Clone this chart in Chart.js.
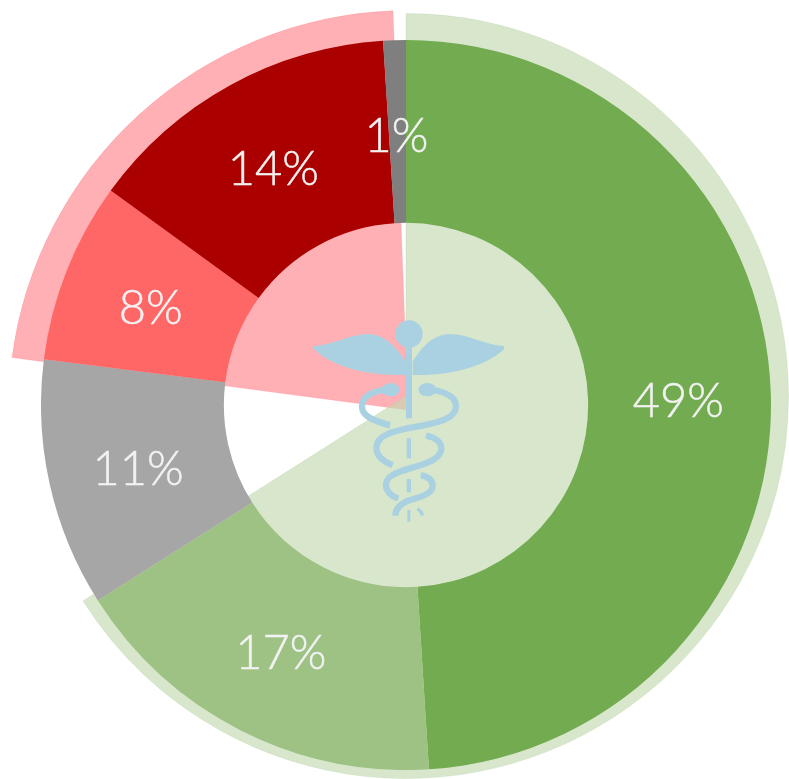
<!DOCTYPE html>
<html><head><meta charset="utf-8">
<script src="https://cdn.jsdelivr.net/npm/chart.js@4"></script>
<style>
html,body{margin:0;padding:0;width:789px;height:779px;overflow:hidden;background:#fff}
#stage{position:relative;width:789px;height:779px;overflow:hidden}
canvas,svg{position:absolute}
</style></head><body>
<div id="stage">
<canvas id="pink" width="800" height="800" style="left:8px;top:10px"></canvas>
<canvas id="pale" width="766" height="766" style="left:23px;top:13px"></canvas>
<canvas id="main" width="730" height="730" style="left:41px;top:40px"></canvas>
<svg style="left:300px;top:310px" width="220" height="220" viewBox="0 0 660 660">
 <g fill="#aad1e1">
  <circle cx="327" cy="72" r="41"/>
  <rect x="318" y="72" width="18" height="253"/>
  <rect x="320" y="385" width="13" height="60"/>
  <rect x="320" y="507" width="13" height="40"/>
  <rect x="322" y="600" width="9" height="35"/>
  <path d="M42 108C100 105 150 72 205 72C255 72 292 115 318 155L318 195C230 198 110 182 42 118Z"/>
  <path d="M612 108C554 105 504 72 450 72C398 72 362 115 338 155L338 195C425 198 545 180 612 118Z"/>
  <ellipse cx="272" cy="239" rx="27" ry="20"/>
  <ellipse cx="382" cy="239" rx="27" ry="20"/>
 </g>
 <g fill="none" stroke="#aad1e1" stroke-width="19">
  <path d="M380 238C420 240 468 255 468 288C468 325 420 338 350 350C280 362 230 375 229 412C229 440 250 455 278 466"/>
  <path d="M272 238C225 240 186 255 186 290C186 318 220 332 270 346"/>
  <path d="M378 377C405 382 424 395 424 415C424 445 385 460 330 475C285 488 258 500 258 525C258 545 275 558 295 566"/>
  <path d="M362 496C385 498 398 512 398 528C398 550 365 560 330 570C300 580 287 595 286 617"/>
  <path d="M352 596C360 600 365 607 367 617" stroke-width="10"/>
 </g>
</svg>
</div>
<script>
const sliceNames = ['Green A','Green B','Grey','Light red','Dark red','Dark grey'];
const sliceShares = [49,17,11,8,14,1];
const sliceColors = ['#72ab50','#9dc284','#a6a6a6','#ff6666','#aa0000','#7f7f7f'];
const sliceLabels = ['49%','17%','11%','8%','14%','1%'];
const paleGreenShares = [66,34];
const palePinkShares = [77.1,22.3,0.6];

const commonOpts = {
  responsive:false, animation:false, events:[],
  plugins:{legend:{display:false},tooltip:{enabled:false}},
  layout:{padding:0}
};
new Chart(document.getElementById('pink'),{
  type:'pie',
  data:{labels:['gap','pink','end'],datasets:[{data:palePinkShares,
    backgroundColor:['rgba(0,0,0,0)','#ffb0b5','rgba(0,0,0,0)'],
    borderColor:['rgba(0,0,0,0)','rgba(255,140,150,0.3)','rgba(0,0,0,0)'],borderWidth:1}]},
  options:commonOpts
});
new Chart(document.getElementById('pale'),{
  type:'pie',
  data:{labels:['green','rest'],datasets:[{data:paleGreenShares,
    backgroundColor:['rgba(195,218,177,0.65)','rgba(0,0,0,0)'],
    borderColor:['rgba(170,205,150,0.25)','rgba(0,0,0,0)'],borderWidth:1}]},
  options:commonOpts
});
const labelPlugin = {
  id:'sliceText',
  afterDatasetsDraw(chart){
    const ctx = chart.ctx;
    const arcs = chart.getDatasetMeta(0).data;
    ctx.save();
    ctx.font = '300 47px Lato';
    ctx.fillStyle = '#f2f2f2';
    ctx.strokeStyle = '#f2f2f2';
    ctx.lineWidth = 0.5;
    ctx.textAlign = 'center';
    ctx.textBaseline = 'middle';
    arcs.forEach((arc,i)=>{
      const p = arc.tooltipPosition();
      ctx.fillText(sliceLabels[i],p.x-1,p.y+5);
      ctx.strokeText(sliceLabels[i],p.x-1,p.y+5);
    });
    ctx.restore();
  }
};
new Chart(document.getElementById('main'),{
  type:'doughnut',
  data:{labels:sliceNames,datasets:[{data:sliceShares,backgroundColor:sliceColors,borderWidth:0}]},
  options:{...commonOpts,cutout:'49.9%'},
  plugins:[labelPlugin]
});
</script>
</body></html>
